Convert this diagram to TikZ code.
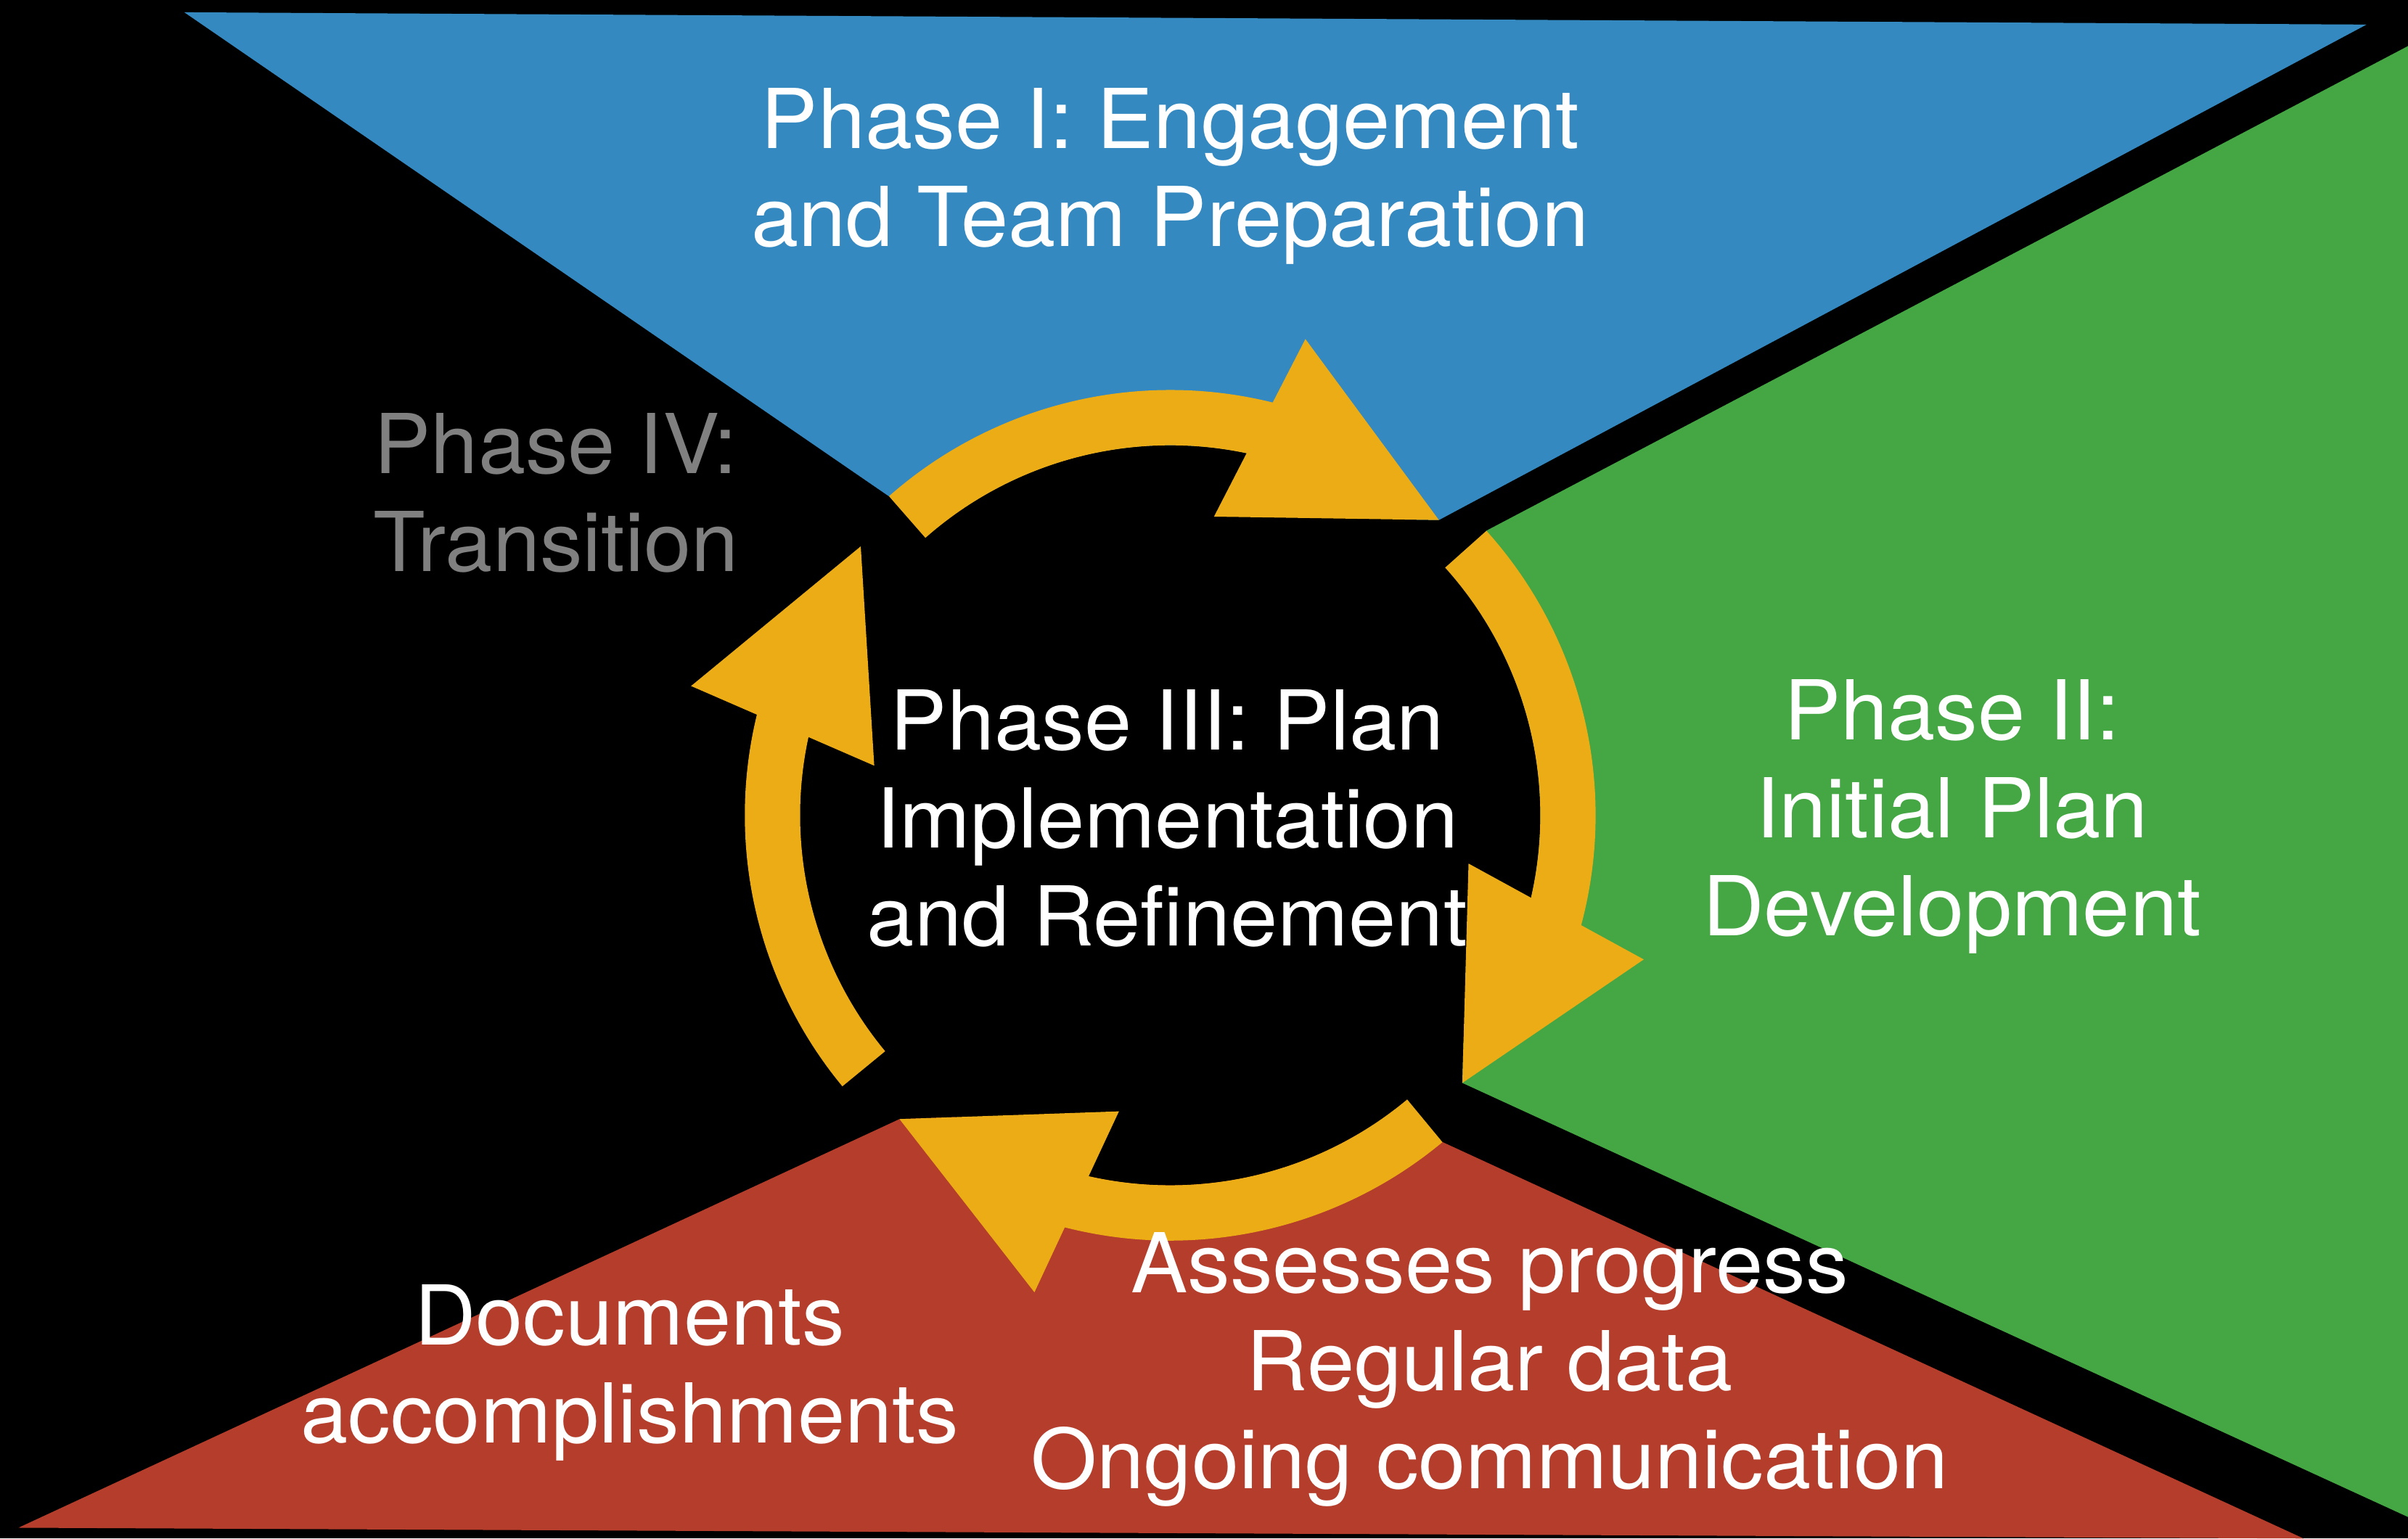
\documentclass[tikz,border=0pt]{standalone}
\usepackage{fontspec}
\setmainfont[FakeStretch=1.03]{TeX Gyre Heros}
\usetikzlibrary{calc}
\definecolor{pblue}{HTML}{3489C1}
\definecolor{pgreen}{HTML}{44A744}
\definecolor{pred}{HTML}{B43D2B}
\definecolor{pgold}{HTML}{EBAC15}
\definecolor{pgray}{HTML}{808080}
% #1 start angle, #2 base angle, #3 tip angle, #4 tip radius, #5 name
\newcommand\DefSeg[5]{%
  \coordinate (#5s) at ($(C)+(#1:259)$);
  \coordinate (#5so) at ($(C)+(#1:277)$);
  \coordinate (#5m) at ($(C)+(#2:259)$);
  \coordinate (#5t) at ($(C)+(#3:#4)$);
  \coordinate (#5o) at ($(#5m)!0.65cm!90:(#5t)$);
  \coordinate (#5i) at ($(#5m)!0.65cm!-90:(#5t)$);
}
% #1 start angle, #2 base angle, #3 name
\newcommand\DrawSeg[3]{%
  \draw[ring] (#3s) arc[start angle=#1, end angle=#2-4, radius=259];
  \fill[pgold] (#3o) -- (#3t) -- (#3i) -- cycle;
}
\begin{document}
\begin{tikzpicture}[x=0.01cm,y=0.01cm,
  lbl/.style={text=white, align=center, font=\fontsize{15.3}{18.15}\selectfont, inner sep=0pt},
  ring/.style={draw=pgold, line width=0.36cm}]
\fill[black] (0,0) rectangle (1568,1002);
\useasboundingbox (0,0) rectangle (1568,1002);
\clip (0,0) rectangle (1568,1002);
\coordinate (C) at (762,471);
\DefSeg{131.4}{77}{47.7}{260}{a}
\DefSeg{42}{-14}{-42.5}{258}{b}
\DefSeg{-50.2}{-103.6}{-131.7}{265}{c}
\DefSeg{219.6}{167}{139}{267}{d}
% colored sectors
\fill[pblue] (120,994) -- (1541,986) -- (at) -- (ai) -- (aso) -- cycle;
\fill[pgreen] (1568,972) -- (bso) -- (bi) -- (bt) -- (1568,14) -- cycle;
\fill[pred] (12,7) -- (ct) -- (ci) -- (cso) -- (1500,0) -- cycle;
% central disk
\fill[black] (C) circle[radius=241];
% ring arrows
\DrawSeg{131.4}{77}{a}
\DrawSeg{42}{-14}{b}
\DrawSeg{-50.2}{-103.6}{c}
\DrawSeg{219.6}{167}{d}
% labels
\node[lbl] (p1) at (762,887) {Phase I: Engagement\\and Team Preparation};
\node[lbl, text=pgray] (p4) at (362,681) {Phase IV:\\Transition};
\node[lbl] (p3) at (760,469) {Phase III: Plan\\Implementation\\and Refinement};
\node[lbl] (p2) at (1271,470) {Phase II:\\Initial Plan\\Development};
\node[lbl] (doc) at (410,108) {Documents\\accomplishments};
\node[lbl] (ass) at (970,110) {Assesses progress\\Regular data\\Ongoing communication};
\end{tikzpicture}
\end{document}
